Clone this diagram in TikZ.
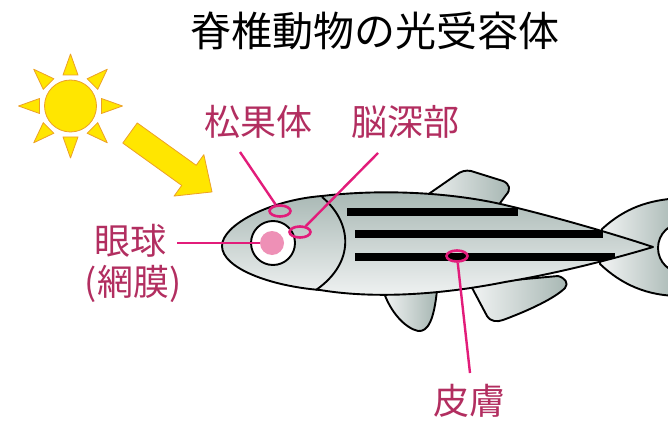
\documentclass[tikz,border=0pt]{standalone}
\usepackage{fontspec}
\newfontfamily\jpfont{Noto Sans CJK JP}
\usetikzlibrary{shapes.geometric}

\definecolor{sunfill}{RGB}{255,230,0}
\definecolor{sunline}{RGB}{236,160,40}
\definecolor{finshade}{RGB}{166,182,178}
\definecolor{fishlight}{RGB}{242,244,244}
\definecolor{markline}{RGB}{226,28,122}
\definecolor{labeltext}{RGB}{178,46,96}
\definecolor{pupilpink}{RGB}{238,144,182}

% outline of the fish body, used for the fill and as a clip for the stripes
\def\bodypath{(222,246) .. controls (222,225) and (270,200) .. (322,196)
  .. controls (380,189) and (450,192) .. (505,205)
  .. controls (560,218) and (620,236) .. (653,247)
  .. controls (620,257) and (560,273) .. (505,282)
  .. controls (450,293) and (380,300) .. (320,290)
  .. controls (270,286) and (222,268) .. (222,246) -- cycle}

\begin{document}
\begin{tikzpicture}[x=1pt,y=-1pt,
  outline/.style={draw=black,line width=1.9pt,line join=round},
  bodyfill/.style={top color=finshade,bottom color=fishlight},
  finfill/.style={left color=fishlight,right color=finshade},
  lbl/.style={text=labeltext,font=\jpfont\fontsize{36pt}{40pt}\selectfont,inner sep=0pt},
  ring/.style={ellipse,draw=markline,line width=2.6pt,minimum width=21pt,minimum height=11pt,inner sep=0pt},
  lead/.style={draw=markline,line width=2.4pt},
  sunpart/.style={fill=sunfill,draw=sunline,line width=0.8pt,line join=round}
]
\useasboundingbox (0,0) rectangle (668,422);
\clip (0,0) rectangle (668,422);

% title
\node[font=\jpfont\fontsize{41pt}{48pt}\selectfont,inner sep=0pt] (title) at (375,31) {脊椎動物の光受容体};

% sun
\begin{scope}[shift={(70.5,106)}]
  \foreach \a in {0,45,...,315}
    \filldraw[sunpart,rotate=\a] (31,-7.5) -- (52,0) -- (31,7.5) -- cycle;
  \filldraw[sunpart] (0,0) circle (26pt);
\end{scope}

% light arrow
\begin{scope}[shift={(130,133)},rotate=-35.7]
  \filldraw[sunpart] (0,-12.4) -- (72.6,-12.4) -- (72.6,-25.5) -- (101,0)
    -- (72.6,25.5) -- (72.6,12.4) -- (0,12.4) -- cycle;
\end{scope}

% fins behind the body
\path[finfill,outline] (420,200) -- (456,175) .. controls (461,171) and (466,170) .. (471,171)
  -- (503,181) .. controls (510,184) and (511,190) .. (506,195) -- (495,210) -- cycle;
\path[finfill,outline] (383,290) .. controls (390,312) and (405,328) .. (418,331)
  .. controls (428,332) and (434,320) .. (437,290) -- cycle;
\path[finfill,outline] (470,284) -- (487,316) .. controls (491,322) and (497,322) .. (503,320)
  .. controls (530,310) and (555,298) .. (565,288) .. controls (569,283) and (565,278) .. (558,276) -- cycle;
% tail fin with its notch
\path[finfill,outline] (602,229) .. controls (625,208) and (648,200) .. (680,198) -- (680,296)
  .. controls (648,296) and (622,285) .. (600,264) -- cycle;
\filldraw[fill=white,outline] (683,248) circle (25pt);

% body
\path[bodyfill,outline] \bodypath;
\begin{scope}
  \clip \bodypath;
  \fill[black] (347,207.5) rectangle (518,215.5);
  \fill[black] (355,229.5) rectangle (603,237.5);
  \fill[black] (355,252.5) rectangle (615,260.5);
\end{scope}
\draw[outline] (322,197) .. controls (352,222) and (356,262) .. (316,290);

% eye
\node[circle,fill=white,outline,minimum size=44pt,inner sep=0pt] (eye) at (273,243) {};
\node[circle,fill=pupilpink,minimum size=24pt,inner sep=0pt] (pupil) at (272,243) {};

% photoreceptor sites
\node[ring] (pineal) at (280,211) {};
\node[ring] (brain) at (300,232) {};
\node[ring] (skin) at (457,256) {};

% leader lines
\coordinate (pinealTop) at (240,152);
\coordinate (brainTop) at (378,153);
\coordinate (eyeLeft) at (177,243);
\coordinate (skinBottom) at (470,373);
\draw[lead] (pinealTop) -- (pineal);
\draw[lead] (brainTop) -- (brain);
\draw[lead] (eyeLeft) -- (pupil);
\draw[lead] (skin) -- (skinBottom);

% labels
\node[lbl] (lPineal) at (258,122) {松果体};
\node[lbl] (lBrain) at (405,122) {脳深部};
\node[lbl] (lEye) at (130,241) {眼球};
\node[lbl] (lRetina) at (133,284) {(網膜)};
\node[lbl] (lSkin) at (469,401) {皮膚};
\end{tikzpicture}
\end{document}
